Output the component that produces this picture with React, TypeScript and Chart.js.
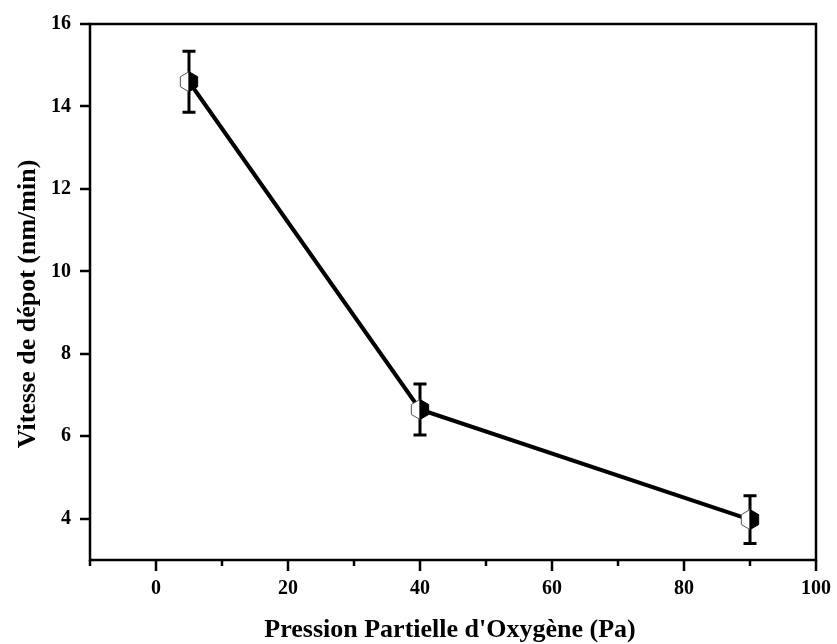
import React, { useEffect, useRef } from 'react';
import { Chart, registerables } from 'chart.js';

Chart.register(...registerables);

const pressures = [5, 40, 90];
const rates = [14.6, 6.65, 3.98];
const errors = [0.74, 0.62, 0.58];
const xTickValues = [-10, 0, 10, 20, 30, 40, 50, 60, 70, 80, 90, 100];
const xMajorTicks = [0, 20, 40, 60, 80, 100];
const yTickValues = [4, 6, 8, 10, 12, 14, 16];
const xTitle = "Pression Partielle d'Oxygène (Pa)";
const yTitle = 'Vitesse de dépot (nm/min)';

const FONT = '"Liberation Serif", "Times New Roman", serif';

const overlay = {
  id: 'overlay',
  afterDatasetsDraw(chart: any) {
    const { ctx, scales } = chart;
    const x = scales.x;
    const y = scales.y;
    ctx.save();
    // error bars
    ctx.strokeStyle = '#000';
    ctx.lineWidth = 3;
    pressures.forEach((p, i) => {
      const px = x.getPixelForValue(p);
      const top = y.getPixelForValue(rates[i] + errors[i]);
      const bot = y.getPixelForValue(rates[i] - errors[i]);
      ctx.beginPath();
      ctx.moveTo(px, top);
      ctx.lineTo(px, bot);
      ctx.moveTo(px - 6.5, top);
      ctx.lineTo(px + 6.5, top);
      ctx.moveTo(px - 6.5, bot);
      ctx.lineTo(px + 6.5, bot);
      ctx.stroke();
    });
    // half-filled hexagon markers
    const r = 10;
    pressures.forEach((p, i) => {
      const cx = x.getPixelForValue(p);
      const cy = y.getPixelForValue(rates[i]);
      const c30 = Math.cos(Math.PI / 6) * r;
      const s30 = r / 2;
      ctx.beginPath();
      ctx.moveTo(cx, cy - r);
      ctx.lineTo(cx - c30, cy - s30);
      ctx.lineTo(cx - c30, cy + s30);
      ctx.lineTo(cx, cy + r);
      ctx.closePath();
      ctx.fillStyle = '#fff';
      ctx.fill();
      ctx.lineWidth = 1;
      ctx.strokeStyle = '#555';
      ctx.stroke();
      ctx.beginPath();
      ctx.moveTo(cx, cy - r);
      ctx.lineTo(cx + c30, cy - s30);
      ctx.lineTo(cx + c30, cy + s30);
      ctx.lineTo(cx, cy + r);
      ctx.closePath();
      ctx.fillStyle = '#000';
      ctx.fill();
      ctx.strokeStyle = '#000';
      ctx.stroke();
    });
    ctx.restore();
  },
  afterDraw(chart: any) {
    const { ctx, chartArea: a, scales } = chart;
    const x = scales.x;
    const y = scales.y;
    ctx.save();
    ctx.strokeStyle = '#000';
    ctx.lineWidth = 2.5;
    ctx.beginPath();
    ctx.rect(a.left, a.top, a.right - a.left, a.bottom - a.top);
    ctx.stroke();
    ctx.beginPath();
    xTickValues.forEach((v) => {
      const px = Math.round(x.getPixelForValue(v));
      const len = xMajorTicks.includes(v) ? 11 : 6;
      ctx.moveTo(px, a.bottom);
      ctx.lineTo(px, a.bottom + len);
    });
    yTickValues.forEach((v) => {
      const py = Math.round(y.getPixelForValue(v));
      ctx.moveTo(a.left - 10, py);
      ctx.lineTo(a.left, py);
    });
    ctx.stroke();

    // axis titles
    ctx.fillStyle = '#000';
    ctx.font = `bold 26px ${FONT}`;
    ctx.textAlign = 'center';
    ctx.textBaseline = 'alphabetic';
    ctx.fillText(xTitle, 450, 637);
    ctx.translate(35, 304);
    ctx.rotate(-Math.PI / 2);
    ctx.fillText(yTitle, 0, 0);
    ctx.restore();
  },
};

export default function App() {
  const ref = useRef<HTMLCanvasElement | null>(null);

  useEffect(() => {
    document.body.style.margin = '0';
    const canvas = ref.current;
    if (!canvas) return;
    const chart = new Chart(canvas, {
      type: 'scatter',
      data: {
        datasets: [
          {
            data: pressures.map((p, i) => ({ x: p, y: rates[i] })),
            showLine: true,
            borderColor: '#000',
            borderWidth: 4,
            pointRadius: 0,
            pointHoverRadius: 0,
          },
        ],
      },
      options: {
        responsive: false,
        animation: false,
        events: [],
        layout: { padding: { top: 24, right: 19, left: 0, bottom: 0 } },
        plugins: {
          legend: { display: false },
          tooltip: { enabled: false },
        },
        scales: {
          x: {
            type: 'linear',
            min: -10,
            max: 100,
            afterBuildTicks: (s: any) => {
              s.ticks = xTickValues.map((v) => ({ value: v }));
            },
            afterFit: (s: any) => {
              s.height = 84;
            },
            grid: { display: false, drawTicks: true, tickLength: 11 },
            border: { display: false },
            ticks: {
              autoSkip: false,
              maxRotation: 0,
              padding: 6,
              color: '#000',
              font: { family: FONT, size: 20, weight: 'bold' },
              callback: (v: any) => (xMajorTicks.includes(Number(v)) ? String(v) : ''),
            },
            title: { display: false },
          },
          y: {
            type: 'linear',
            min: 3,
            max: 16,
            afterBuildTicks: (s: any) => {
              s.ticks = yTickValues.map((v) => ({ value: v }));
            },
            afterFit: (s: any) => {
              s.width = 90;
            },
            grid: { display: false, drawTicks: true, tickLength: 10 },
            border: { display: false },
            ticks: {
              autoSkip: false,
              padding: 9,
              color: '#000',
              font: { family: FONT, size: 20, weight: 'bold' },
            },
            title: { display: false },
          },
        },
      },
      plugins: [overlay],
    });
    return () => chart.destroy();
  }, []);

  return (
    <div style={{ width: 837, height: 644, background: '#fff' }}>
      <canvas ref={ref} width={837} height={644} style={{ display: 'block' }} />
    </div>
  );
}
